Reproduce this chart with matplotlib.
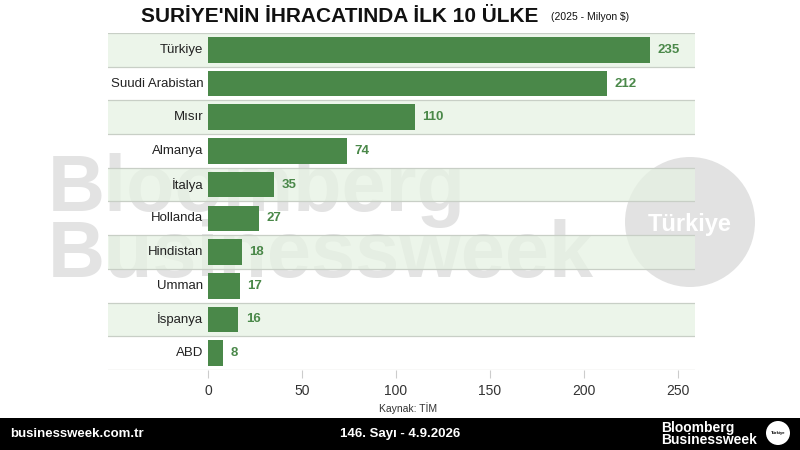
import matplotlib
matplotlib.use('Agg')
import matplotlib.pyplot as plt
from matplotlib.patches import Ellipse, Rectangle

countries = ["Türkiye", "Suudi Arabistan", "Mısır", "Almanya", "İtalya",
             "Hollanda", "Hindistan", "Umman", "İspanya", "ABD"]
values = [235, 212, 110, 74, 35, 27, 18, 17, 16, 8]
xticks = [0, 50, 100, 150, 200, 250]

green = "#4a8849"
band = "#e6f2e3"

plt.rcParams['font.family'] = ['Liberation Sans', 'DejaVu Sans']

fig = plt.figure(figsize=(8, 4.5), dpi=100)
fig.patch.set_facecolor("white")

# watermark behind the chart
fig.text(48 / 800, 1 - 190 / 450, "Bloomberg", fontsize=57, fontweight="bold",
         color="#e3e3e3", va="center", ha="left", zorder=-2)
fig.text(48 / 800, 1 - 257 / 450, "Businessweek", fontsize=57, fontweight="bold",
         color="#e3e3e3", va="center", ha="left", zorder=-2)
fig.patches.append(Ellipse((690 / 800, 1 - 222 / 450), 130 / 800, 130 / 450,
                           transform=fig.transFigure, facecolor="#e2e2e2",
                           edgecolor="none", zorder=-2))
fig.text(690 / 800, 1 - 224 / 450, "Türkiye", fontsize=17, fontweight="bold",
         color="white", ha="center", va="center", zorder=-1)

ax = fig.add_axes([108 / 800, 1 - 370 / 450, 587 / 800, 337 / 450])
ax.set_facecolor("none")
xmin, xmax = -53.2, 259
ax.set_xlim(xmin, xmax)
ax.set_ylim(len(countries) - 0.5, -0.5)

for i in range(len(countries)):
    if i % 2 == 0:
        ax.axhspan(i - 0.5, i + 0.5, color=band, alpha=0.75, zorder=0, lw=0)
for i in range(len(countries) + 1):
    ax.axhline(i - 0.5, color="#c8cfc6", lw=0.9, zorder=1)

pos = list(range(len(countries)))
ax.barh(pos, values, height=0.76, color=green, zorder=2)
for i, (c, v) in enumerate(zip(countries, values)):
    ax.text(-2.5, i, c, ha="right", va="center", fontsize=9.5, color="#222222")
    ax.text(v + 4, i, str(v), ha="left", va="center", fontsize=9.5,
            fontweight="bold", color=green)

for s in ["top", "right", "left", "bottom"]:
    ax.spines[s].set_visible(False)
ax.set_yticks([])
ax.set_xticks(xticks)
ax.tick_params(axis="x", length=6, color="#cccccc", labelsize=10,
               labelcolor="#333333", pad=4)

# titles
fig.text(340 / 800, 1 - 17 / 450, "SURİYE'NİN İHRACATINDA İLK 10 ÜLKE", fontsize=15,
         fontweight="bold", ha="center", va="center", color="#111111")
fig.text(551 / 800, 1 - 17 / 450, "(2025 - Milyon $)", fontsize=7.5,
         ha="left", va="center", color="#111111")
fig.text(408 / 800, 1 - 408 / 450, "Kaynak: TİM", fontsize=7.5,
         ha="center", va="center", color="#333333")

# footer
fig.patches.append(Rectangle((0, 0), 1, 32 / 450, transform=fig.transFigure,
                             facecolor="black", edgecolor="none", zorder=5))
fig.text(10 / 800, 1 - 434 / 450, "businessweek.com.tr", fontsize=9.5,
         fontweight="bold", color="white", ha="left", va="center", zorder=6)
fig.text(400 / 800, 1 - 434 / 450, "146. Sayı - 4.9.2026", fontsize=9.5,
         fontweight="bold", color="white", ha="center", va="center", zorder=6)
fig.text(661 / 800, 1 - 434 / 450, "Bloomberg\nBusinessweek", fontsize=10,
         fontweight="bold", color="white", ha="left", va="center",
         linespacing=0.85, zorder=6)
fig.patches.append(Ellipse((778 / 800, 1 - 433 / 450), 24 / 800, 24 / 450,
                           transform=fig.transFigure, facecolor="white",
                           edgecolor="none", zorder=6))
fig.text(778 / 800, 1 - 433 / 450, "Türkiye", fontsize=3, fontweight="bold",
         color="black", ha="center", va="center", zorder=7)

fig.savefig("out.png", dpi=100)
